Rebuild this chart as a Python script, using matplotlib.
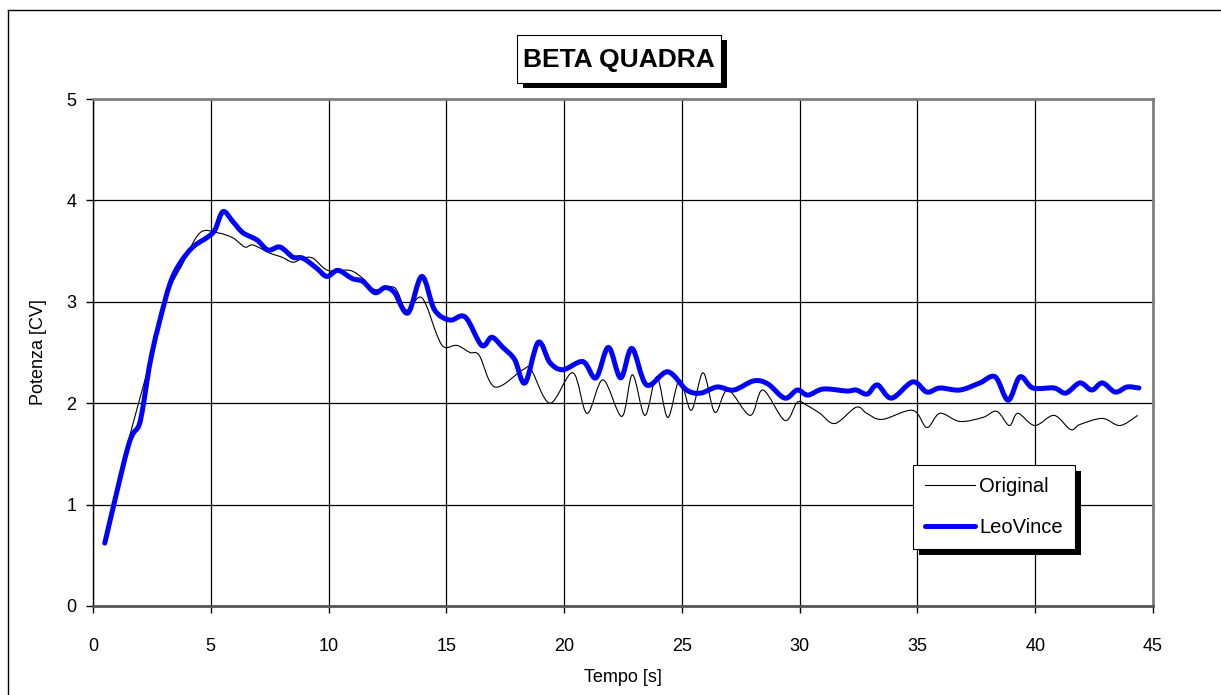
import matplotlib
matplotlib.use("Agg")
import matplotlib.pyplot as plt
from matplotlib.lines import Line2D
from matplotlib.patches import Rectangle, PathPatch
from matplotlib.path import Path
from matplotlib.transforms import IdentityTransform

plt.rcParams['font.family'] = ['Liberation Sans', 'DejaVu Sans']

# ---- data ----
t_leo = [0.5, 1.15, 1.5, 1.7, 1.95, 2.12, 2.3, 2.5, 2.84, 3.27, 3.69, 4.24, 4.88, 5.18,
         5.52, 5.94, 6.37, 6.96, 7.43, 7.94, 8.49, 8.91, 9.5, 9.93, 10.4, 11.0, 11.46,
         11.97, 12.4, 12.8, 13.37, 13.96, 14.5, 15.15, 15.8, 16.5, 16.93, 17.4, 17.9,
         18.34, 18.9, 19.4, 19.95, 20.8, 21.35, 21.88, 22.4, 22.88, 23.5, 24.4, 25.2,
         25.8, 26.5, 27.2, 28.05, 28.65, 29.37, 29.9, 30.35, 31.0, 32.0, 32.4, 32.87,
         33.3, 33.9, 34.8, 35.4, 35.95, 36.8, 37.65, 38.3, 38.85, 39.35, 39.9, 40.8,
         41.3, 41.9, 42.4, 42.85, 43.4, 43.9, 44.4]
p_leo = [0.62, 1.26, 1.58, 1.70, 1.78, 1.96, 2.23, 2.49, 2.82, 3.18, 3.38, 3.54, 3.64, 3.71,
         3.89, 3.79, 3.68, 3.61, 3.51, 3.54, 3.44, 3.43, 3.33, 3.25, 3.31, 3.23, 3.20,
         3.09, 3.14, 3.09, 2.89, 3.25, 2.92, 2.82, 2.85, 2.57, 2.65, 2.55, 2.43,
         2.20, 2.60, 2.40, 2.33, 2.41, 2.25, 2.55, 2.25, 2.54, 2.18, 2.31, 2.13,
         2.10, 2.16, 2.13, 2.22, 2.19, 2.05, 2.13, 2.08, 2.14, 2.12, 2.13, 2.09,
         2.18, 2.05, 2.21, 2.11, 2.15, 2.13, 2.20, 2.26, 2.03, 2.26, 2.15, 2.15,
         2.10, 2.20, 2.13, 2.20, 2.11, 2.16, 2.15]

t_orig = [0.5, 1.0, 1.55, 2.29, 3.14, 3.82, 4.54, 5.3, 5.94, 6.45, 6.79, 7.51, 8.02, 8.49,
          8.91, 9.34, 9.97, 10.9, 11.46, 11.97, 12.8, 13.3, 13.96, 14.64, 14.94, 15.45,
          16.0, 16.4, 17.06, 18.25, 18.6, 19.4, 20.37, 20.97, 21.65, 22.45, 22.9, 23.43,
          23.93, 24.4, 24.9, 25.4, 25.9, 26.4, 26.95, 27.9, 28.44, 29.37, 29.9, 30.3,
          30.86, 31.5, 32.4, 32.85, 33.5, 34.8, 35.4, 35.95, 36.8, 37.78, 38.37, 38.9,
          39.26, 39.98, 40.8, 41.5, 41.9, 42.85, 43.6, 44.35]
p_orig = [0.62, 1.12, 1.67, 2.30, 3.05, 3.38, 3.68, 3.68, 3.63, 3.54, 3.56, 3.48, 3.44, 3.39,
          3.43, 3.43, 3.31, 3.31, 3.23, 3.12, 3.14, 2.92, 3.04, 2.65, 2.55, 2.57,
          2.50, 2.47, 2.16, 2.33, 2.33, 2.00, 2.30, 1.90, 2.23, 1.87, 2.28, 1.88,
          2.26, 1.86, 2.23, 1.93, 2.30, 1.91, 2.13, 1.88, 2.13, 1.83, 2.01, 1.98,
          1.90, 1.80, 1.96, 1.90, 1.84, 1.93, 1.76, 1.90, 1.82, 1.86, 1.92, 1.78,
          1.90, 1.78, 1.88, 1.74, 1.79, 1.85, 1.78, 1.88]

x_ticks = [0, 5, 10, 15, 20, 25, 30, 35, 40, 45]
y_ticks = [0, 1, 2, 3, 4, 5]
title = "BETA QUADRA"
xlabel = "Tempo [s]"
ylabel = "Potenza [CV]"
labels = ["Original", "LeoVince"]


def smooth_path(xs, ys):
    """Smoothed-line rendering (Catmull-Rom as cubic Bezier) through the read points."""
    pts = list(zip(xs, ys))
    n = len(pts)
    verts = [pts[0]]
    codes = [Path.MOVETO]
    for i in range(n - 1):
        p0 = pts[i - 1] if i > 0 else pts[i]
        p1 = pts[i]
        p2 = pts[i + 1]
        p3 = pts[i + 2] if i + 2 < n else pts[i + 1]
        c1 = (p1[0] + (p2[0] - p0[0]) / 6, p1[1] + (p2[1] - p0[1]) / 6)
        c2 = (p2[0] - (p3[0] - p1[0]) / 6, p2[1] - (p3[1] - p1[1]) / 6)
        verts += [c1, c2, p2]
        codes += [Path.CURVE4] * 3
    return Path(verts, codes)


W, H = 1221, 695
fig = plt.figure(figsize=(W / 100, H / 100), dpi=100)
ax = fig.add_axes([93 / W, 1 - 606 / H, 1060 / W, 507 / H])

ax.add_patch(PathPatch(smooth_path(t_orig, p_orig), fill=False, ec='black', lw=0.8, zorder=3))
ax.add_patch(PathPatch(smooth_path(t_leo, p_leo), fill=False, ec='#0000ff', lw=3.6, zorder=4,
                       joinstyle='round', capstyle='round'))
handles = [Line2D([], [], color='black', lw=0.8),
           Line2D([], [], color='#0000ff', lw=3.6, solid_capstyle='round')]

ax.set_xlim(0, 45)
ax.set_ylim(0, 5)
ax.set_xticks(x_ticks)
ax.set_yticks(y_ticks)
ax.grid(True, color='black', lw=0.9)
ax.set_axisbelow(True)
ax.tick_params(direction='out', length=5, width=1, labelsize=13, colors='black')
ax.tick_params(axis='x', pad=18)
ax.tick_params(axis='y', pad=7)
for s in ['top', 'right']:
    ax.spines[s].set_color('#808080')
    ax.spines[s].set_linewidth(2)
ax.spines['bottom'].set_color('#555555')
ax.spines['bottom'].set_linewidth(2)
ax.spines['left'].set_color('black')
ax.spines['left'].set_linewidth(1)
ax.set_xlabel(xlabel, fontsize=13, labelpad=10)
ax.set_ylabel(ylabel, fontsize=13, labelpad=14)

leg = ax.legend(handles, labels, loc='upper left',
                bbox_to_anchor=((913 - 93) / 1060, (606 - 465) / 507), borderaxespad=0,
                frameon=True, fancybox=False, edgecolor='black', framealpha=1,
                fontsize=14.5, handlelength=2.5, labelspacing=1.1, borderpad=0.6,
                handletextpad=0.2)
leg.get_frame().set_linewidth(0.8)
leg.set_zorder(10)

# title box with shadow (pixel positions of the box)
fig.add_artist(Rectangle(((517 + 6) / W, 1 - (83 + 5) / H), 204 / W, 48 / H,
                         transform=fig.transFigure, fc='black', ec='none', zorder=1))
fig.add_artist(Rectangle((517 / W, 1 - 83 / H), 204 / W, 48 / H,
                         transform=fig.transFigure, fc='white', ec='black', lw=0.8, zorder=2))
fig.text(619 / W, 1 - 60 / H, title, ha='center', va='center', fontsize=19,
         fontweight='bold', color='black', zorder=3)

# outer frame (left & top)
fig.add_artist(Line2D([8 / W, 8 / W], [0, 1 - 10 / H], transform=fig.transFigure,
                      color='black', lw=1))
fig.add_artist(Line2D([8 / W, 1], [1 - 10 / H, 1 - 10 / H], transform=fig.transFigure,
                      color='black', lw=1))

# legend shadow
fig.canvas.draw()
bb = leg.get_frame().get_window_extent()
ax.add_artist(Rectangle((bb.x0 + 6, bb.y0 - 6), bb.width, bb.height,
                        transform=IdentityTransform(), fc='black', ec='none', zorder=9,
                        clip_on=False))

fig.savefig('out.png', dpi=100)
